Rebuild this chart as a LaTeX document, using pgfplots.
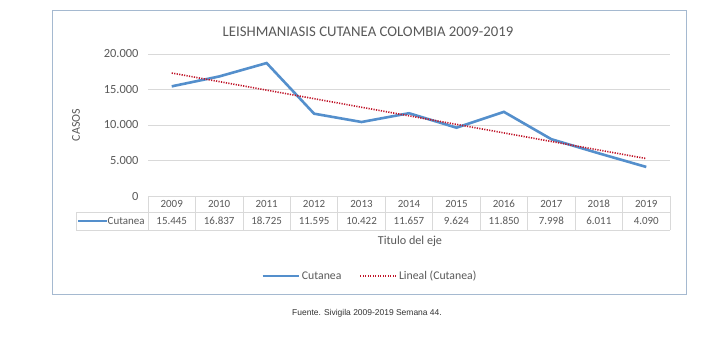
\documentclass[border=0pt]{standalone}
\usepackage{pgfplots}
\pgfplotsset{compat=1.18}
\usepackage{fontspec}
\setmainfont{Carlito}
\newfontfamily\arialfont{Liberation Sans}
\definecolor{lineblue}{RGB}{84,143,204}
\definecolor{trendred}{RGB}{192,20,40}
\definecolor{textc}{RGB}{89,89,89}
\definecolor{gridc}{RGB}{217,217,217}
\definecolor{framec}{RGB}{165,185,208}
\begin{document}
\begin{tikzpicture}
\useasboundingbox (0,0) rectangle (712bp,-348bp);
\fill[white] (0,0) rectangle (712bp,-348bp);
\draw[framec, line width=1bp] (52.7bp,-10bp) rectangle (686bp,-294bp);
\begin{axis}[at={(148bp,-196bp)}, anchor=south west, scale only axis,
  width=522bp, height=142bp, xmin=-0.5, xmax=10.5, ymin=0, ymax=20000,
  clip=false, axis line style={draw=none}, xtick=\empty,
  ytick={0,5000,10000,15000,20000}, ymajorgrids, scaled y ticks=false,
  grid style={gridc, line width=0.8bp}, major tick length=0pt,
  yticklabel style={font=\fontsize{12.5}{14}\selectfont, text=textc, xshift=-6bp,
    /pgf/number format/fixed, /pgf/number format/precision=0,
    /pgf/number format/1000 sep={.}},
  /pgf/number format/assume math mode=true,
  legend style={at={(0.425,-0.563)}, anchor=center, draw=none, fill=none,
    font=\fontsize{11.8}{13}\selectfont, text=textc, legend columns=2,
    /tikz/every even column/.append style={column sep=16bp}},
  legend image code/.code={\draw[#1] (0bp,0bp) -- (36bp,0bp);},
]
\addplot[lineblue, line width=2.6bp] coordinates {
(0,15445) (1,16837) (2,18725) (3,11595) (4,10422) (5,11657)
(6,9624) (7,11850) (8,7998) (9,6011) (10,4090)};
\addlegendentry{Cutanea}
\addplot[trendred, line width=1.6bp, dash pattern=on 1.2bp off 1.3bp] coordinates {
(0,17321) (10,5271)};
\addlegendentry{Lineal (Cutanea)}
\end{axis}
% table
\begin{scope}[gridc, line width=0.8bp]
\draw (148bp,-196bp) -- (670bp,-196bp);
\draw (76bp,-212bp) -- (670bp,-212bp);
\draw (76bp,-230bp) -- (670bp,-230bp);
\draw (76bp,-212bp) -- (76bp,-230bp);
\foreach \k in {0,...,11} {
  \draw ({(148+47.4545*\k)*1bp},-196bp) -- ({(148+47.4545*\k)*1bp},-230bp);
}
\end{scope}
\tikzset{tcell/.style={text=textc, font=\fontsize{11}{12}\selectfont, anchor=base, inner sep=0pt}}
\foreach \yr/\v [count=\i from 0] in {2009/15.445,2010/16.837,2011/18.725,2012/11.595,2013/10.422,2014/11.657,2015/9.624,2016/11.850,2017/7.998,2018/6.011,2019/4.090} {
  \node[tcell] at ({(171.73+47.4545*\i)*1bp},-207.8bp) {\yr};
  \node[tcell] at ({(171.73+47.4545*\i)*1bp},-224.8bp) {\v};
}
\draw[lineblue, line width=2.6bp] (78bp,-221bp) -- (107bp,-221bp);
\node[tcell, anchor=base west] at (107.5bp,-224.8bp) {Cutanea};
\node[text=textc, font=\fontsize{14.8}{17}\selectfont] at (368bp,-32bp) {LEISHMANIASIS CUTANEA COLOMBIA 2009-2019};
\node[text=textc, font=\fontsize{12.2}{14}\selectfont] at (410bp,-241bp) {Titulo del eje};
\node[text=textc, font=\fontsize{12}{14}\selectfont, rotate=90] at (76bp,-125bp) {CASOS};
\node[text=black!80, font=\arialfont\fontsize{8.5}{10}\selectfont] at (367bp,-313bp) {Fuente. Sivigila 2009-2019 Semana 44.};
\end{tikzpicture}
\end{document}
